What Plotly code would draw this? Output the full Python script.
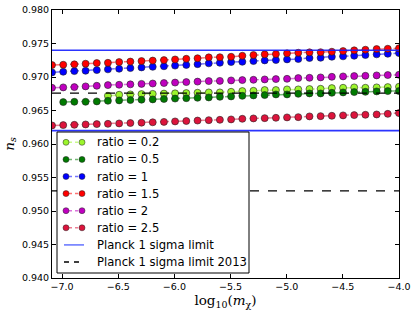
import plotly.graph_objects as go

log_m = [-7.090, -6.990, -6.891, -6.791, -6.691, -6.592, -6.492, -6.392, -6.293, -6.193,
         -6.093, -5.994, -5.894, -5.794, -5.694, -5.595, -5.495, -5.395, -5.296, -5.196,
         -5.096, -4.997, -4.897, -4.797, -4.698, -4.598, -4.498, -4.399, -4.299, -4.199,
         -4.100, -4.000]

ns_ratio_0_2 = [None, None, None, None, None, 0.96720, 0.96735, 0.96740, 0.96745, 0.96748,
                0.96752, 0.96756, 0.96760, 0.96765, 0.96770, 0.96770, 0.96779, 0.96790, 0.96794, 0.96805,
                0.96805, 0.96815, 0.96815, 0.96820, 0.96824, 0.96834, 0.96839, 0.96845, 0.96839, 0.96845,
                0.96849, 0.96854]
ns_ratio_0_5 = [None, 0.96625, 0.96630, 0.96630, 0.96636, 0.96645, 0.96651, 0.96656, 0.96661, 0.96666,
                0.96672, 0.96678, 0.96684, 0.96690, 0.96695, 0.96704, 0.96710, 0.96719, 0.96725, 0.96730,
                0.96740, 0.96740, 0.96749, 0.96755, 0.96755, 0.96764, 0.96770, 0.96775, 0.96779, 0.96785,
                0.96790, 0.96790]
ns_ratio_1 = [0.97069, 0.97078, 0.97088, 0.97093, 0.97103, 0.97114, 0.97123, 0.97133, 0.97143, 0.97152,
              0.97160, 0.97170, 0.97180, 0.97192, 0.97204, 0.97212, 0.97223, 0.97227, 0.97238, 0.97248,
              0.97253, 0.97263, 0.97268, 0.97283, 0.97287, 0.97302, 0.97308, 0.97317, 0.97328, 0.97338,
              0.97347, 0.97357]
ns_ratio_1_5 = [0.97178, 0.97183, 0.97189, 0.97198, 0.97208, 0.97212, 0.97223, 0.97230, 0.97238, 0.97245,
                0.97252, 0.97262, 0.97272, 0.97280, 0.97293, 0.97295, 0.97302, 0.97317, 0.97328, 0.97338,
                0.97343, 0.97353, 0.97362, 0.97368, 0.97370, 0.97377, 0.97387, 0.97398, 0.97407, 0.97417,
                0.97422, 0.97428]
ns_ratio_2 = [0.96839, 0.96845, 0.96849, 0.96860, 0.96869, 0.96879, 0.96884, 0.96890, 0.96897, 0.96903,
              0.96910, 0.96917, 0.96924, 0.96931, 0.96939, 0.96942, 0.96949, 0.96954, 0.96958, 0.96964,
              0.96969, 0.96973, 0.96984, 0.96988, 0.96994, 0.97003, 0.97009, 0.97014, 0.97018, 0.97024,
              0.97029, 0.97033]
ns_ratio_2_5 = [0.96277, 0.96282, 0.96286, 0.96292, 0.96297, 0.96301, 0.96307, 0.96313, 0.96318, 0.96324,
                0.96330, 0.96337, 0.96343, 0.96350, 0.96356, 0.96361, 0.96367, 0.96376, 0.96382, 0.96386,
                0.96391, 0.96397, 0.96401, 0.96412, 0.96416, 0.96421, 0.96427, 0.96431, 0.96436, 0.96441,
                0.96450, 0.96461]

series_names = ["ratio = 0.2", "ratio = 0.5", "ratio = 1", "ratio = 1.5", "ratio = 2", "ratio = 2.5"]
series_values = [ns_ratio_0_2, ns_ratio_0_5, ns_ratio_1, ns_ratio_1_5, ns_ratio_2, ns_ratio_2_5]
marker_colors = ["#9cf52c", "#007a00", "#0000ff", "#ff0000", "#bf00bf", "#dc143c"]
line_colors = ["rgba(156,245,44,0.55)", "rgba(0,122,0,0.55)", "rgba(0,0,255,0.55)",
               "rgba(255,0,0,0.55)", "rgba(191,0,191,0.55)", "rgba(220,20,60,0.55)"]

planck_name = "Planck 1 sigma limit"
planck_limits = [0.974, 0.962]
planck2013_name = "Planck 1 sigma limit 2013"
planck2013_limits = [0.9676, 0.953]

x_range = [-7.09, -4.0]
y_range = [0.940, 0.980]
x_ticks = [-7.0, -6.5, -6.0, -5.5, -5.0, -4.5, -4.0]
y_ticks = [0.940, 0.945, 0.950, 0.955, 0.960, 0.965, 0.970, 0.975, 0.980]

# ---- layout geometry (pixels) ----
W, H = 415, 318
ML, MR, MT, MB = 52, 16, 10, 40
PW, PH = W - ML - MR, H - MT - MB


def px_x(px):
    return (px - ML) / PW


def px_y(py):
    return 1 - (py - MT) / PH


PLANCK_COLOR = "rgba(20,30,255,0.9)"
PLANCK_LEG_COLOR = "rgba(60,80,255,0.75)"

fig = go.Figure()

for name, vals, mc, lc in zip(series_names, series_values, marker_colors, line_colors):
    fig.add_trace(go.Scatter(
        x=log_m, y=vals, mode="lines+markers", name=name,
        line=dict(color=lc, width=1.5, dash="dash"),
        marker=dict(color=mc, size=7, line=dict(color="#222222", width=0.6)),
        connectgaps=False, showlegend=False,
    ))

for v in planck_limits:
    fig.add_trace(go.Scatter(
        x=x_range, y=[v, v], mode="lines", name=planck_name,
        line=dict(color=PLANCK_COLOR, width=1.6), showlegend=False,
    ))

for v in planck2013_limits:
    fig.add_trace(go.Scatter(
        x=x_range, y=[v, v], mode="lines", name=planck2013_name,
        line=dict(color="black", width=1.3, dash="dash"), showlegend=False,
    ))

# ---- hand-built legend (matplotlib style, 2 points per entry) ----
LEG_BOX = (57, 132, 249, 273)
LEG_ROW0, LEG_ROW_STEP = 142.3, 17.1
LEG_M1, LEG_M2, LEG_TEXT = 66, 82, 95

shapes = [dict(type="rect", xref="paper", yref="paper",
               x0=px_x(LEG_BOX[0]), x1=px_x(LEG_BOX[2]),
               y0=px_y(LEG_BOX[3]), y1=px_y(LEG_BOX[1]),
               line=dict(color="black", width=1), fillcolor="white", layer="above")]
annotations = []

legend_rows = []
for name, mc, lc in zip(series_names, marker_colors, line_colors):
    legend_rows.append(("series", name, mc, lc))
legend_rows.append(("solid", planck_name, PLANCK_LEG_COLOR, None))
legend_rows.append(("dashed", planck2013_name, "black", None))

for i, (kind, name, c1, c2) in enumerate(legend_rows):
    yc = px_y(LEG_ROW0 + i * LEG_ROW_STEP)
    if kind == "series":
        shapes.append(dict(type="line", xref="paper", yref="paper",
                           x0=px_x(LEG_M1 + 3), x1=px_x(LEG_M2 - 3), y0=yc, y1=yc,
                           line=dict(color=c2, width=1.5, dash="3px,3px"), layer="above"))
        for mx in (LEG_M1, LEG_M2):
            shapes.append(dict(type="circle", xref="paper", yref="paper",
                               xsizemode="pixel", ysizemode="pixel",
                               xanchor=px_x(mx), yanchor=yc, x0=-3, x1=3, y0=-3, y1=3,
                               fillcolor=c1, line=dict(color="#222222", width=0.5), layer="above"))
    elif kind == "solid":
        shapes.append(dict(type="line", xref="paper", yref="paper",
                           x0=px_x(LEG_M1 - 2), x1=px_x(LEG_M2 + 2), y0=yc, y1=yc,
                           line=dict(color=c1, width=1.6), layer="above"))
    else:
        shapes.append(dict(type="line", xref="paper", yref="paper",
                           x0=px_x(LEG_M1 - 2), x1=px_x(LEG_M2 + 2), y0=yc, y1=yc,
                           line=dict(color=c1, width=1.3, dash="5px,5px"), layer="above"))
    annotations.append(dict(text=name, xref="paper", yref="paper", x=px_x(LEG_TEXT), y=yc,
                            xanchor="left", yanchor="middle", showarrow=False,
                            font=dict(family="DejaVu Sans", size=11.6, color="black")))

axis_common = dict(
    showline=True, linecolor="black", linewidth=1, mirror="ticks",
    ticks="inside", ticklen=4, tickcolor="black", showgrid=False, zeroline=False,
    automargin=False,
    tickfont=dict(family="DejaVu Sans", size=9.5, color="black"),
)

fig.update_xaxes(range=x_range, tickvals=x_ticks, tickformat=".1f",
                 title=dict(text="log<sub>10</sub>(<i>m</i><sub>χ</sub>)",
                            font=dict(family="DejaVu Serif", size=13.5, color="black"), standoff=4),
                 **axis_common)
fig.update_yaxes(range=y_range, tickvals=y_ticks, tickformat=".3f",
                 title=dict(text="<i>n<sub>s</sub></i>",
                            font=dict(family="DejaVu Serif", size=13.5, color="black"), standoff=4),
                 **axis_common)

fig.update_layout(
    width=W, height=H,
    margin=dict(l=ML, r=MR, t=MT, b=MB),
    paper_bgcolor="white", plot_bgcolor="white",
    showlegend=False, hovermode=False,
    shapes=shapes, annotations=annotations,
)

fig.write_html("out.html",
               config={"displayModeBar": False, "staticPlot": True},
               post_script="document.body.style.margin='0px'; document.body.style.overflow='hidden';")
